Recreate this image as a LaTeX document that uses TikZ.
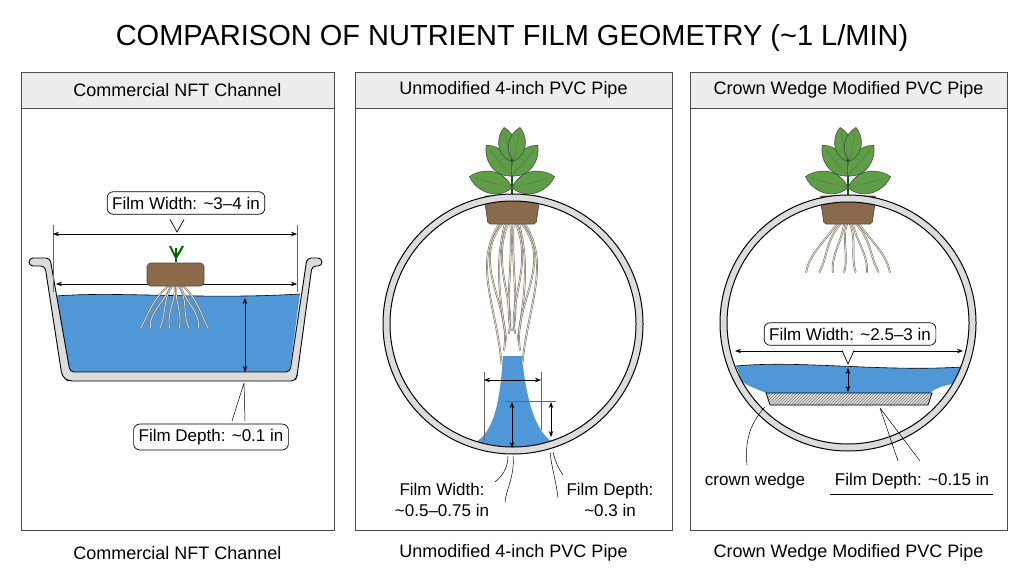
\documentclass[tikz,border=0pt]{standalone}
\usepackage{fontspec}
\setmainfont{Liberation Sans}
\usetikzlibrary{arrows.meta,patterns}
\definecolor{water}{HTML}{4F97D6}
\definecolor{pipe}{HTML}{DCDCDC}
\definecolor{hdr}{HTML}{EDEDED}
\definecolor{soil}{HTML}{8A6A4A}
\definecolor{leaf}{HTML}{5E9E44}
\definecolor{rootc}{HTML}{E6D8BE}
\newcommand{\tl}{\textasciitilde}
\tikzset{
 panel/.style={draw=black!70,line width=0.8pt},
 head/.style={draw=black!70,line width=0.8pt,fill=hdr},
 htext/.style={font=\fontsize{18}{20}\selectfont},
 lab/.style={font=\fontsize{17}{21}\selectfont,align=center},
 callout/.style={draw,rounded corners=6pt,line width=0.7pt,fill=white,font=\fontsize{17}{19}\selectfont,inner sep=5pt},
 dim/.style={line width=0.7pt,{Stealth[length=6pt]}-{Stealth[length=6pt]}},
 ext/.style={line width=0.4pt,black!60},
 lead/.style={line width=0.5pt},
 pipewall/.style={draw=black,line width=1pt,fill=pipe,even odd rule},
 root/.style={draw=black!60,line width=1.8pt,line cap=round},
 rootin/.style={draw=rootc,line width=0.9pt,line cap=round},
 lf/.style={fill=leaf,draw=black!70,line width=0.6pt},
}
\newcommand{\myroot}[1]{\draw[root] #1; \draw[rootin] #1;}
\newcommand{\myleaf}[4]{% x y angle len
 \draw[lf,shift={(#1,#2)},rotate=#3] (0,0) .. controls (0.3*#4,-0.4*#4) and (0.8*#4,-0.25*#4) .. (#4,0) .. controls (0.8*#4,0.25*#4) and (0.3*#4,0.4*#4) .. (0,0);
 \draw[black!60,line width=0.4pt,shift={(#1,#2)},rotate=#3] (0,0)--(0.85*#4,0);}
\newcommand{\myplant}[2]{% x, y of pot top center
 \begin{scope}[shift={(#1,#2)}]
  \draw[green!40!black,line width=2.2pt] (0,0)--(0,-50);
  \myleaf{0}{-18}{165}{44}
  \myleaf{0}{-18}{15}{44}
  \myleaf{0}{-30}{130}{40}
  \myleaf{0}{-30}{50}{40}
  \myleaf{-2}{-45}{100}{34}
  \myleaf{2}{-45}{80}{34}
  \draw[fill=soil,draw=black!70,line width=0.7pt,rounded corners=2pt] (-28,-10) -- (28,-10) -- (24,18) -- (-24,18) -- cycle;
 \end{scope}}
\begin{document}
\begin{tikzpicture}[x=1pt,y=-1pt]
\useasboundingbox (0,0) rectangle (1024,572);
\fill[white] (0,0) rectangle (1024,572);
\node (title) at (512,38) {\fontsize{29}{32}\selectfont COMPARISON OF NUTRIENT FILM GEOMETRY (\tl1 L/MIN)};
% panels
\foreach \l/\r/\t/\n in {21/334/Commercial NFT Channel/a,355/672/Unmodified 4-inch PVC Pipe/b,690/1007/Crown Wedge Modified PVC Pipe/c}{
 \draw[panel] (\l,72) rectangle (\r,530);
 \draw[head] (\l,72) rectangle (\r,108);
 \node[htext] (h\n) at ({(\l+\r)/2},90) {\t};
 \node[lab,font=\fontsize{18}{20}\selectfont] (f\n) at ({(\l+\r)/2},553) {\t};
}
% ---------- panel 1
\fill[water] (56,296) .. controls (120,291) and (200,300) .. (300,294) -- (290,368) .. controls (288,372) and (285,373) .. (280,373) -- (77,373) .. controls (72,373) and (69,370) .. (68,366) -- cycle;
\draw[line width=0.6pt] (56,296) .. controls (120,291) and (200,300) .. (300,294);
\draw[draw=black,line width=0.9pt,fill=pipe,rounded corners=4pt] (29,258) -- (50,258) -- (70,372) -- (290,372) -- (307,258) -- (322,258) -- (322,266) -- (312,266) -- (297,376) -- (295,381) -- (68,381) -- (62,376) -- (45,266) -- (29,266) -- cycle;
\draw[ext] (53,225)--(53,292) (297,225)--(297,292);
\draw[dim] (53,234)--(297,234);
\draw[dim] (56,284)--(297,284);
\node[callout] (w1) at (186,203) {Film Width: \tl3–4 in};
\draw[line width=0.7pt,fill=white] (170,219.5)--(177,232)--(184,219.5);
\draw[white,line width=1.5pt] (171,219)--(183,219);
% plug
\draw[green!40!black,line width=2pt] (176,262)--(176,248) (176,258)--(170,246) (176,258)--(183,246);
\foreach \dx/\e in {-22/-4,-16/5,-10/-5,-4/4,2/-4,8/5,14/-5,20/4}{
 \myroot{(176+\dx*0.3,285) .. controls (176+\dx*0.9+\e,300) and (176+\dx*1.4-\e,312) .. (176+\dx*1.6,328)}
}
\draw[fill=soil,draw=black!70,line width=0.7pt,rounded corners=4pt] (147,263) rectangle (204,286);
\draw[dim] (245,298)--(245,372);
\draw[lead] (244,383)--(232,421) (244,383)--(245,421);
\node[callout] (d1) at (211,437) {Film Depth: \tl0.1 in};
% ---------- panel 2
\fill[water] (476,442) .. controls (495,430) and (500,400) .. (503,356) -- (522,356) .. controls (526,400) and (535,430) .. (552,442) -- (530,449) -- (500,449) -- cycle;
\foreach \dx/\e in {-26/8,-20/-6,-14/7,-8/-7,-3/6,3/-6,8/7,14/-7,20/6,26/-8}{
 \myroot{(512+\dx*0.5,224) .. controls (512+\dx*1.8+\e,265) and (512+\dx*0.3-\e,305) .. (512+\dx*0.4,\dx*\dx*0.05+330)}
}
\myplant{512}{206}
\draw[pipewall] (513,324) circle (130) (513,324) circle (123);
\draw[ext] (484,372)--(484,440) (541,372)--(541,430) (505,401)--(556,401);
\draw[dim] (484,380)--(541,380);
\draw[dim] (512,402)--(512,448);
\draw[dim] (551,402)--(551,437);
\draw[lead] (513,456) .. controls (515,475) and (506,490) .. (505,502);
\draw[lead] (508,456) .. controls (508,470) and (500,478) .. (495,482);
\draw[lead] (550,452) .. controls (552,470) and (556,480) .. (558,498);
\draw[lead] (553,452) .. controls (556,465) and (560,470) .. (563,475);
\node[lab] (w2) at (442,500) {Film Width:\\\tl0.5–0.75 in};
\node[lab] (d2) at (610,500) {Film Depth:\\\tl0.3 in};
% ---------- panel 3
\fill[water] (736,366) .. controls (800,360) and (880,372) .. (962,367) -- (958,383) .. controls (945,385) and (935,388) .. (930,393) -- (766,393) .. controls (755,388) and (745,385) .. (742,381) -- cycle;
\draw[line width=0.6pt] (736,366) .. controls (800,360) and (880,372) .. (962,367);
\draw[line width=0.6pt] (766,393)--(930,393);
\draw[fill=pipe,draw=none] (766,393)--(932,393)--(928,405)--(770,405)--cycle;
\draw[pattern=north east lines,pattern color=black!50,draw=black,line width=0.8pt] (766,393)--(932,393)--(928,405)--(770,405)--cycle;
\foreach \dx/\e in {-22/4,-15/-4,-8/4,-2/-4,4/4,10/-4,16/4,22/-4}{
 \myroot{(848+\dx*0.5,224) .. controls (848+\dx*1.2+\e,240) and (848+\dx*1.6-\e,255) .. (848+\dx*1.9,272)}
}
\myplant{848}{206}
\draw[pipewall] (848,323) circle (128) (848,323) circle (121);
\draw[dim] (735,351)--(963,351);
\node[callout] (w3) at (850,334) {Film Width: \tl2.5–3 in};
\draw[line width=0.7pt,fill=white] (842,350.5)--(848,364)--(854,350.5);
\draw[white,line width=1.5pt] (843,350)--(853,350);
\draw[dim] (848,368)--(848,392);
\draw[lead] (765,407) .. controls (748,425) and (745,445) .. (747,465);
\node[lab] (cw) at (755,481) {crown wedge};
\draw[lead] (880,408)--(898,461) (880,408)--(920,461);
\node[lab] (d3) at (912,481) {Film Depth: \tl0.15 in};
\draw[line width=0.5pt] (830,494)--(993,494);
\end{tikzpicture}
\end{document}
